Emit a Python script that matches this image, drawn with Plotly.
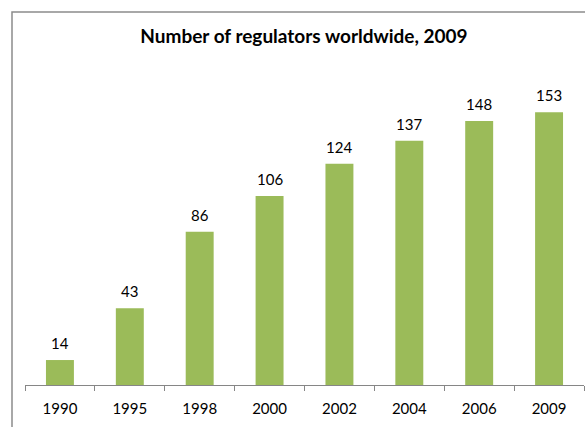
import plotly.graph_objects as go

years = ["1990", "1995", "1998", "2000", "2002", "2004", "2006", "2009"]
regulators = [14, 43, 86, 106, 124, 137, 148, 153]

W, H = 585, 427
L, R, T, B = 25, 1, 64, 42
pw, ph = W - L - R, H - T - B

def px_to_paper_x(px):
    return (px - L) / pw

def px_to_paper_y(py):
    return (H - B - py) / ph

FONT = "Lato, Open Sans, sans-serif"

fig = go.Figure(go.Bar(
    x=years, y=regulators,
    marker=dict(color="#9BBB59", line=dict(width=0)),
    width=0.4,
    hoverinfo="skip",
))

# value labels, placed at each category index (category axis positions)
for i, v in enumerate(regulators):
    fig.add_annotation(
        x=i, y=v, text=str(v), showarrow=False,
        yanchor="bottom", yshift=6,
        font=dict(family=FONT, size=15, color="#000000"),
    )

fig.update_layout(
    width=W, height=H,
    margin=dict(l=L, r=R, t=T, b=B, pad=0),
    paper_bgcolor="white", plot_bgcolor="white",
    showlegend=False,
    bargap=0.6,
    title=dict(
        text="<b>Number of regulators worldwide, 2009</b>",
        x=304 / W, xanchor="center", y=1 - 36 / H, yanchor="middle",
        font=dict(family=FONT, size=19, color="#000000"),
    ),
    xaxis=dict(
        type="category",
        categoryorder="array", categoryarray=years,
        range=[-0.5, len(years) - 0.5],
        showline=True, linecolor="#868686", linewidth=1,
        ticks="outside", tickson="boundaries", ticklen=5, tickcolor="#868686",
        tickfont=dict(family=FONT, size=15, color="#000000"),
        ticklabelstandoff=10,
        showgrid=False, zeroline=False, automargin=False,
    ),
    yaxis=dict(
        range=[0, 180], visible=False, showgrid=False, zeroline=False,
    ),
    shapes=[dict(
        type="rect", xref="paper", yref="paper",
        x0=px_to_paper_x(12), x1=px_to_paper_x(W + 20),
        y0=px_to_paper_y(H + 20), y1=px_to_paper_y(12),
        line=dict(color="#8C8C8C", width=1.5), fillcolor="rgba(0,0,0,0)",
        layer="below",
    )],
)

fig.write_html(
    "out.html",
    config={"displayModeBar": False},
    post_script="document.body.style.margin='0';document.body.style.overflow='hidden';",
)
